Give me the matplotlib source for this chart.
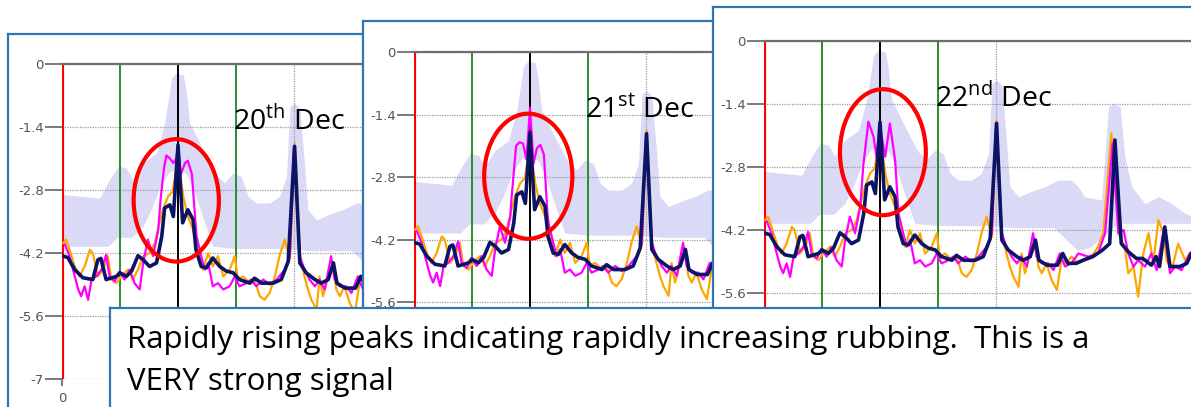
import numpy as np
import matplotlib
matplotlib.use("Agg")
from matplotlib import pyplot as plt
from matplotlib.patches import Ellipse

# ---- data (x in chart units, y in signal units) ----
navy_x = [0.02, 0.10, 0.22, 0.36, 0.53, 0.62, 0.67, 0.76, 0.94, 1.00, 1.11, 1.20, 1.31, 1.40,
          1.51, 1.63, 1.72, 1.77, 1.86, 1.92, 2.00, 2.08, 2.17, 2.26, 2.31, 2.40, 2.49, 2.60,
          2.72, 2.83, 2.95, 3.06, 3.24, 3.32, 3.44, 3.64, 3.78, 3.90, 4.01, 4.10, 4.21, 4.36,
          4.47, 4.59, 4.68, 4.74, 4.88, 5.06, 5.15, 5.24, 5.38, 5.50, 5.67, 5.84, 5.96, 6.05,
          6.16, 6.28, 6.42, 6.53, 6.68, 6.76, 6.82, 6.91, 7.00, 7.17, 7.29, 7.37]
navy_y = [-4.27, -4.30, -4.57, -4.75, -4.79, -4.35, -4.32, -4.79, -4.72, -4.64, -4.72, -4.60, -4.26, -4.35,
          -4.50, -4.42, -3.83, -3.20, -3.13, -3.39, -1.80, -3.53, -3.24, -3.46, -4.13, -4.50, -4.53, -4.31,
          -4.50, -4.60, -4.64, -4.79, -4.87, -4.76, -4.87, -4.87, -4.79, -4.39, -1.83, -4.42, -4.64, -4.79,
          -4.87, -4.79, -4.42, -4.87, -4.98, -4.98, -4.72, -4.94, -4.94, -4.87, -4.79, -4.64, -4.50, -2.20,
          -4.50, -4.68, -4.83, -4.83, -4.98, -4.79, -5.01, -4.13, -5.01, -5.01, -4.94, -4.72]

orange_x = [0.02, 0.07, 0.13, 0.22, 0.30, 0.39, 0.48, 0.53, 0.62, 0.71, 0.79, 0.85, 0.94, 1.02,
            1.14, 1.22, 1.31, 1.40, 1.51, 1.60, 1.68, 1.74, 1.83, 1.91, 2.00, 2.09, 2.17, 2.26,
            2.34, 2.43, 2.52, 2.60, 2.69, 2.78, 2.89, 2.98, 3.03, 3.12, 3.24, 3.32, 3.41, 3.49,
            3.58, 3.67, 3.75, 3.84, 3.93, 4.01, 4.10, 4.18, 4.24, 4.30, 4.39, 4.44, 4.50, 4.59,
            4.67, 4.73, 4.79, 4.87, 4.96, 5.05, 5.13, 5.22, 5.30, 5.42, 5.53, 5.65, 5.76, 5.85,
            5.99, 6.11, 6.22, 6.28, 6.37, 6.45, 6.54, 6.63, 6.71, 6.80, 6.89, 6.94, 7.03, 7.14,
            7.26, 7.34]
orange_y = [-3.98, -3.90, -4.13, -4.50, -4.72, -4.50, -4.13, -4.20, -4.72, -4.57, -4.27, -4.79, -4.87, -4.72,
            -4.57, -4.79, -4.57, -4.27, -4.20, -3.98, -3.53, -3.24, -2.94, -2.83, -2.10, -2.94, -3.39, -3.68,
            -4.13, -4.57, -4.20, -4.50, -4.27, -4.72, -4.57, -4.27, -4.79, -4.72, -4.87, -4.79, -5.16, -5.24,
            -5.09, -4.72, -4.27, -3.90, -4.35, -1.76, -4.27, -4.72, -5.01, -5.24, -5.46, -4.72, -5.16, -4.72,
            -4.42, -5.01, -5.16, -4.94, -5.31, -5.53, -4.87, -4.94, -4.79, -4.94, -4.87, -4.79, -4.57, -4.27,
            -2.05, -4.27, -4.57, -5.16, -5.01, -5.68, -4.72, -4.27, -4.94, -3.98, -4.27, -4.87, -5.09, -4.50,
            -4.87, -4.72]

magenta_x = [0.05, 0.13, 0.22, 0.28, 0.33, 0.39, 0.45, 0.51, 0.59, 0.68, 0.76, 0.82, 0.91, 0.99,
             1.08, 1.17, 1.25, 1.34, 1.40, 1.48, 1.57, 1.66, 1.71, 1.80, 1.89, 1.94, 2.00, 2.09,
             2.17, 2.26, 2.32, 2.40, 2.46, 2.52, 2.60, 2.69, 2.78, 2.89, 2.98, 3.06, 3.18, 3.26,
             3.35, 3.47, 3.58, 3.70, 3.84, 3.93, 4.00, 4.10, 4.18, 4.27, 4.36, 4.44, 4.53, 4.64,
             4.70, 4.79, 4.90, 4.99, 5.10, 5.19, 5.30, 5.42, 5.59, 5.76, 5.88, 6.01, 6.11, 6.20,
             6.28, 6.37, 6.45, 6.57, 6.68, 6.77, 6.90, 7.00, 7.09, 7.20, 7.34]
magenta_y = [-4.01, -4.27, -4.72, -5.01, -5.16, -4.94, -5.24, -4.79, -4.72, -4.57, -4.24, -4.72, -4.83, -4.61,
             -4.79, -4.57, -4.87, -5.01, -4.42, -3.90, -4.27, -3.68, -2.79, -1.79, -2.13, -2.57, -1.90, -2.57,
             -1.83, -2.64, -3.83, -4.27, -4.57, -4.42, -4.94, -4.87, -5.01, -4.94, -4.72, -4.94, -4.87, -4.79,
             -4.94, -4.79, -4.90, -4.79, -4.57, -4.27, -1.83, -4.27, -4.57, -4.79, -4.94, -4.79, -5.01, -4.27,
             -4.79, -4.94, -4.94, -5.09, -4.72, -5.01, -4.94, -4.72, -4.79, -4.72, -4.27, -2.27, -4.27, -4.20,
             -4.72, -5.01, -4.87, -5.01, -4.72, -5.09, -4.13, -5.16, -5.01, -5.09, -4.72]

# magenta around the central peak differs from day to day
mag_mid_20_x = [1.70, 1.76, 1.80, 1.86, 1.92, 1.97, 2.00, 2.05, 2.12, 2.17, 2.24, 2.30]
mag_mid_20_y = [-3.00, -2.30, -2.03, -2.10, -2.20, -2.10, -1.85, -2.45, -2.20, -2.15, -2.45, -3.50]
mag_mid_21_x = [1.68, 1.76, 1.82, 1.88, 1.94, 2.00, 2.06, 2.12, 2.18, 2.24, 2.30]
mag_mid_21_y = [-3.30, -2.10, -2.02, -2.05, -2.40, -1.25, -2.50, -2.15, -2.08, -2.30, -3.60]

band_hi_x = [0.00, 0.65, 0.82, 0.97, 1.11, 1.22, 1.40, 1.63, 1.77, 1.89, 1.97, 2.09, 2.14, 2.20,
             2.32, 2.43, 2.55, 2.66, 2.80, 2.95, 3.09, 3.21, 3.35, 3.58, 3.75, 3.87, 3.93, 4.01,
             4.10, 4.18, 4.24, 4.39, 4.67, 4.84, 5.07, 5.30, 5.42, 5.53, 5.82, 5.94, 6.02, 6.14,
             6.22, 6.34, 6.57, 6.80, 7.03, 7.26, 7.40]
band_hi_y = [-2.90, -2.98, -2.57, -2.27, -2.31, -2.57, -2.20, -1.98, -1.31, -0.31, -0.20, -0.24, -0.57, -1.31,
             -1.61, -1.90, -2.20, -2.46, -2.64, -2.42, -2.50, -2.94, -3.09, -3.09, -2.94, -2.50, -0.94, -0.87,
             -0.98, -2.20, -3.24, -3.46, -3.31, -3.24, -3.09, -3.09, -3.24, -3.46, -3.53, -1.46, -1.39, -1.46,
             -2.57, -3.24, -3.61, -3.46, -3.61, -3.83, -3.90]
band_lo_x = [0.00, 0.80, 0.95, 1.20, 1.40, 1.55, 1.70, 1.85, 2.00, 2.15, 2.30, 2.45, 2.60, 3.00,
             3.50, 3.90, 4.30, 5.00, 5.20, 5.40, 5.60, 5.80, 6.10, 7.40]
band_lo_y = [-4.05, -4.05, -3.85, -3.85, -3.60, -3.20, -2.70, -2.40, -2.30, -2.45, -2.90, -3.50, -4.05, -4.10,
             -4.10, -4.10, -4.15, -4.15, -4.40, -4.65, -4.60, -4.40, -4.05, -4.05]

y_ticks = [0, -1.4, -2.8, -4.2, -5.6, -7]
y_tick_labels = ["0", "-1.4", "-2.8", "-4.2", "-5.6", "-7"]
marker_x = [0, 1, 2, 3]
marker_colors = ["#ff0000", "#2b8a2b", "#000000", "#2b8a2b"]
marker_widths = [3.0, 1.4, 1.4, 1.4]
day_labels = ["20$^{\\mathregular{th}}$ Dec", "21$^{\\mathregular{st}}$ Dec", "22$^{\\mathregular{nd}}$ Dec"]
note_lines = ["Rapidly rising peaks indicating rapidly increasing rubbing.  This is a",
              "VERY strong signal"]

W, H = 1191, 407
BLUE = "#2e75b6"
FONT = "Open Sans"


def rect(l, t, r, b):
    return [l / W, 1 - b / H, (r - l) / W, (b - t) / H]


def card(box, z):
    ax = fig.add_axes(rect(*box), zorder=z)
    ax.set_xticks([])
    ax.set_yticks([])
    ax.set_facecolor("white")
    for s in ax.spines.values():
        s.set_color(BLUE)
        s.set_linewidth(1.6)
    return ax


def merged_magenta(mid_x, mid_y):
    mx = np.array(magenta_x)
    my = np.array(magenta_y)
    keep = (mx < mid_x[0]) | (mx > mid_x[-1])
    xs = np.concatenate([mx[keep], mid_x])
    ys = np.concatenate([my[keep], mid_y])
    order = np.argsort(xs)
    return xs[order], ys[order]


fig = plt.figure(figsize=(W / 100, H / 100), dpi=100)

panels = [
    # card box, plot box, y bottom, ellipse (cx, cy, w, h), magenta middle
    dict(card=(8, 34, 400, 430), plot=(62, 64, 362, 379), ybot=-7.0,
         ell=(1.97, -3.03, 1.47, 2.72), mid=(mag_mid_20_x, mag_mid_20_y), show_x=True),
    dict(card=(363, 21, 760, 430), plot=(414, 52, 712, 312), ybot=-5.82,
         ell=(1.97, -2.78, 1.52, 2.80), mid=(mag_mid_21_x, mag_mid_21_y), show_x=False),
    dict(card=(713, 7, 1220, 430), plot=(764, 41, 1191, 312), ybot=-6.02,
         ell=(2.05, -2.47, 1.48, 2.80), mid=None, show_x=False),
]

band_x = np.union1d(band_hi_x, band_lo_x)
band_top = np.interp(band_x, band_hi_x, band_hi_y)
band_bot = np.interp(band_x, band_lo_x, band_lo_y)

for i, p in enumerate(panels):
    card(p["card"], 2 * i + 1)
    l, t, r, b = p["plot"]
    ax = fig.add_axes(rect(l, t, r, b), zorder=2 * i + 2)
    ax.set_facecolor("white")

    ax.fill_between(band_x, band_top, band_bot, color="#dadaf7", lw=0, zorder=1)

    ax.set_yticks(y_ticks)
    ax.set_yticklabels(y_tick_labels)
    ax.yaxis.grid(True, ls=(0, (1, 1)), color="#9a9a9a", lw=0.9, zorder=1.5)
    ax.axvline(4, ls=(0, (1, 1)), color="#9a9a9a", lw=0.9, zorder=1.5)
    ax.tick_params(axis="y", length=12, width=1.3, color="#707070", labelsize=9.5,
                   labelcolor="#555555", pad=1)
    ax.set_xticks([0])
    ax.set_xticklabels(["0"] if p["show_x"] else [""])
    ax.tick_params(axis="x", length=5, width=1.3, color="#707070", labelsize=9.5,
                   labelcolor="#555555", pad=4)
    ax.set_xlim(0, (r - l) / 58.0)
    ax.set_ylim(p["ybot"], 0)

    for sname, s in ax.spines.items():
        if sname == "top":
            s.set_color("#6e6e6e")
            s.set_linewidth(1.6)
        else:
            s.set_visible(False)

    for mx, mc, mw in zip(marker_x, marker_colors, marker_widths):
        ax.axvline(mx, color=mc, lw=mw, zorder=2)

    if p["mid"] is None:
        mgx, mgy = magenta_x, magenta_y
    else:
        mgx, mgy = merged_magenta(*p["mid"])
    ax.plot(orange_x, orange_y, color="#ffa500", lw=1.6, zorder=3)
    ax.plot(mgx, mgy, color="#ff00ff", lw=1.6, zorder=4)
    ax.plot(navy_x, navy_y, color="#0c1466", lw=2.6, zorder=5)

    cx, cy, ew, eh = p["ell"]
    ax.add_patch(Ellipse((cx, cy), ew, eh, fill=False, ec="#ff0000", lw=3.0, zorder=6))
    ax.text(2.95, -1.47, day_labels[i], fontsize=20.5, family=FONT, va="baseline",
            ha="left", color="black", zorder=7)

# note box on top of everything
tb = card((110, 308, 1220, 430), 10)
for line, base in zip(note_lines, [348, 390]):
    fig.text(127 / W, 1 - base / H, line, fontsize=22.5, family=FONT,
             va="baseline", ha="left", zorder=11)

fig.savefig("out.png", dpi=100)
